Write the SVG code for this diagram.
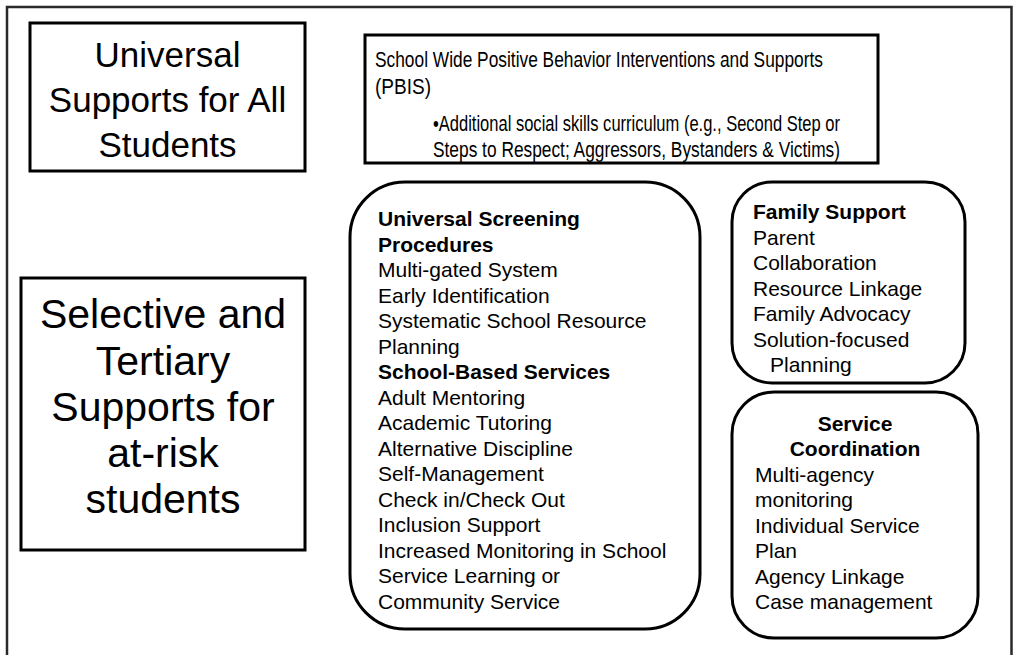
<svg xmlns="http://www.w3.org/2000/svg" width="1015" height="655" viewBox="0 0 1015 655">
<style>
  .box { fill: #fff; stroke: #000; stroke-width: 3; }
  .frame { fill: none; stroke: #2a2a2a; stroke-width: 2.5; }
  text { font-family: "Liberation Sans", Arial, sans-serif; fill: #000; }
  .big { font-size: 35px; text-anchor: middle; }
  .huge { font-size: 41px; text-anchor: middle; }
  .pb { font-size: 21.5px; }
  .t { font-size: 21px; }
  .b { font-weight: bold; }
</style>
<rect x="0" y="0" width="1015" height="655" fill="#fff"/>
<g id="connectors"></g>
<g id="frame"><path class="frame" d="M7,660 V7 H1011.5 V660"/></g>
<g id="universal">
  <rect class="box" x="30" y="23" width="275" height="148"/>
  <text class="big" x="167.5" y="67">Universal</text>
  <text class="big" x="167.5" y="112">Supports for All</text>
  <text class="big" x="167.5" y="157">Students</text>
</g>
<g id="pbis">
  <rect class="box" x="365" y="35" width="513" height="128"/>
  <text class="pb" x="375" y="67" textLength="448" lengthAdjust="spacingAndGlyphs">School Wide Positive Behavior Interventions and Supports</text>
  <text class="pb" x="375" y="94" textLength="56" lengthAdjust="spacingAndGlyphs">(PBIS)</text>
  <text class="pb" x="433" y="131" textLength="407" lengthAdjust="spacingAndGlyphs">•Additional social skills curriculum (e.g., Second Step or</text>
  <text class="pb" x="433" y="157" textLength="407" lengthAdjust="spacingAndGlyphs">Steps to Respect; Aggressors, Bystanders &amp; Victims)</text>
</g>
<g id="selective">
  <rect class="box" x="21" y="278" width="284" height="272"/>
  <text class="huge" x="163" y="328">Selective and</text>
  <text class="huge" x="163" y="375">Tertiary</text>
  <text class="huge" x="163" y="421">Supports for</text>
  <text class="huge" x="163" y="467">at-risk</text>
  <text class="huge" x="163" y="513">students</text>
</g>
<g id="screening">
  <rect class="box" x="350" y="182" width="350" height="447" rx="55" ry="55"/>
  <text class="t b" x="378" y="226">Universal Screening</text>
  <text class="t b" x="378" y="251.5">Procedures</text>
  <text class="t" x="378" y="277">Multi-gated System</text>
  <text class="t" x="378" y="302.5">Early Identification</text>
  <text class="t" x="378" y="328">Systematic School Resource</text>
  <text class="t" x="378" y="353.5">Planning</text>
  <text class="t b" x="378" y="379">School-Based Services</text>
  <text class="t" x="378" y="404.5">Adult Mentoring</text>
  <text class="t" x="378" y="430">Academic Tutoring</text>
  <text class="t" x="378" y="455.5">Alternative Discipline</text>
  <text class="t" x="378" y="481">Self-Management</text>
  <text class="t" x="378" y="506.5">Check in/Check Out</text>
  <text class="t" x="378" y="532">Inclusion Support</text>
  <text class="t" x="378" y="557.5">Increased Monitoring in School</text>
  <text class="t" x="378" y="583">Service Learning or</text>
  <text class="t" x="378" y="608.5">Community Service</text>
</g>
<g id="family">
  <rect class="box" x="732" y="182" width="233" height="201" rx="40" ry="40"/>
  <text class="t b" x="753" y="219">Family Support</text>
  <text class="t" x="753" y="244.5">Parent</text>
  <text class="t" x="753" y="270">Collaboration</text>
  <text class="t" x="753" y="295.5">Resource Linkage</text>
  <text class="t" x="753" y="321">Family Advocacy</text>
  <text class="t" x="753" y="346.5">Solution-focused</text>
  <text class="t" x="770" y="372">Planning</text>
</g>
<g id="coordination">
  <rect class="box" x="732" y="392" width="246" height="246" rx="42" ry="42"/>
  <text class="t b" x="855" y="430.5" text-anchor="middle">Service</text>
  <text class="t b" x="855" y="456" text-anchor="middle">Coordination</text>
  <text class="t" x="755" y="481.5">Multi-agency</text>
  <text class="t" x="755" y="507">monitoring</text>
  <text class="t" x="755" y="532.5">Individual Service</text>
  <text class="t" x="755" y="558">Plan</text>
  <text class="t" x="755" y="583.5">Agency Linkage</text>
  <text class="t" x="755" y="609">Case management</text>
</g>
</svg>
